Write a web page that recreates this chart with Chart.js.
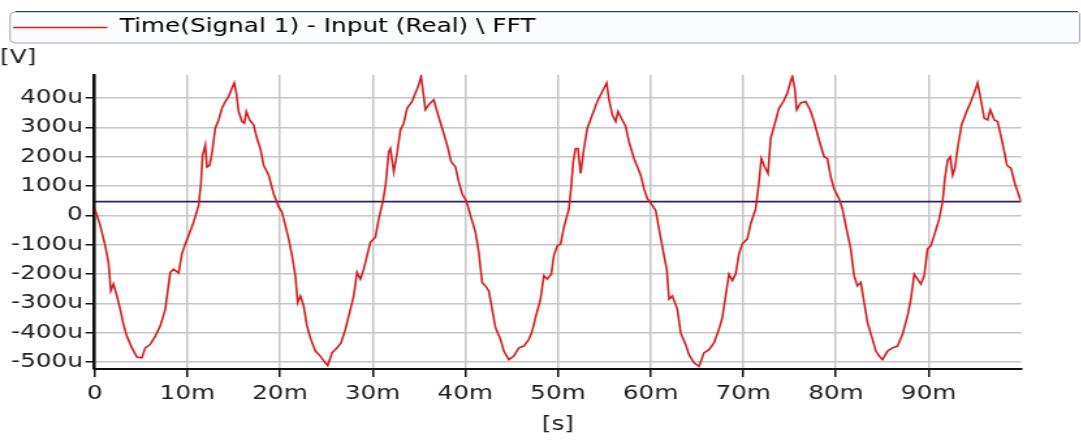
<!DOCTYPE html>
<html lang="en">
<head>
<meta charset="UTF-8">
<title>Time(Signal 1) - Input (Real) \ FFT</title>
<script src="https://cdn.jsdelivr.net/npm/chart.js@4"></script>
<style>
  html, body { margin: 0; padding: 0; background: #fff; overflow: hidden; }
  /* the reference has a horizontally stretched look, so draw narrower and stretch */
  #wrap { width: 831.5px; height: 441px; transform: scaleX(1.3); transform-origin: 0 0; }
</style>
</head>
<body>
<div id="wrap"><canvas id="chart"></canvas></div>
<script>
const legendText = 'Time(Signal 1) - Input (Real) \\ FFT'
const yUnit = '[V]'
const xUnit = '[s]'

// time in ms, signal in uV
const timeMs = [
  0, 0.6, 1.13, 1.49, 1.75, 2.03, 2.39, 2.75, 3.11, 3.47, 4.02, 4.56, 5.1, 5.46, 5.99, 6.54, 7.08, 7.62, 8.16, 8.52,
  9.06, 9.42, 9.78, 10.14, 10.68, 11.22, 11.47, 11.65, 11.94, 12.12, 12.41, 12.66, 13.02, 13.38, 13.74, 14.1, 14.46, 14.82, 15.07, 15.29,
  15.54, 15.9, 16.15, 16.37, 16.73, 17.16, 17.52, 17.88, 18.24, 18.78, 19.32, 19.86, 20.22, 20.58, 20.94, 21.3, 21.66, 21.91, 22.2, 22.56,
  22.92, 23.28, 23.82, 24.36, 24.9, 25.15, 25.62, 26.16, 26.59, 27.06, 27.6, 27.96, 28.32, 28.68, 29.04, 29.4, 29.76, 30.3, 30.7, 31.1,
  31.4, 31.74, 31.92, 32.28, 32.64, 33.0, 33.36, 33.72, 34.26, 34.62, 34.98, 35.23, 35.45, 35.7, 36.06, 36.6, 36.96, 37.5, 38.04, 38.47,
  38.94, 39.3, 39.66, 40.13, 40.56, 41.1, 41.46, 41.82, 42.18, 42.54, 42.9, 43.26, 43.8, 44.16, 44.7, 45.24, 45.78, 46.32, 46.86, 47.22,
  47.58, 48.12, 48.48, 48.84, 49.28, 49.56, 49.93, 50.29, 50.65, 51.19, 51.44, 51.65, 51.9, 52.16, 52.45, 52.81, 53.17, 53.71, 54.25, 54.79,
  55.26, 55.51, 55.87, 56.23, 56.48, 56.84, 57.31, 57.67, 58.21, 58.57, 58.93, 59.29, 59.65, 60.19, 60.55, 60.91, 61.38, 61.74, 61.99, 62.35,
  62.89, 63.25, 63.79, 64.15, 64.69, 65.23, 65.76, 66.3, 66.84, 67.38, 67.74, 68.1, 68.46, 68.82, 69.18, 69.54, 69.9, 70.44, 70.8, 71.34,
  71.7, 71.95, 72.31, 72.67, 72.96, 73.32, 73.86, 74.33, 74.76, 75.12, 75.3, 75.56, 75.77, 76.2, 76.74, 77.21, 77.64, 78.18, 78.72, 79.08,
  79.44, 79.8, 80.34, 80.7, 81.06, 81.6, 81.96, 82.32, 82.69, 83.05, 83.41, 83.95, 84.31, 84.67, 85.03, 85.57, 86.11, 86.65, 87.19, 87.73,
  88.09, 88.45, 88.81, 89.17, 89.53, 89.89, 90.25, 90.61, 91.15, 91.51, 91.76, 92.05, 92.34, 92.59, 92.84, 93.13, 93.56, 94.03, 94.57, 94.93,
  95.29, 95.58, 96.01, 96.37, 96.66, 97.09, 97.45, 97.99, 98.46, 98.9, 99.32, 99.97
]
const signalUV = [
  25, -34, -102, -160, -256, -233, -273, -318, -371, -411, -451, -482, -485, -451, -440, -411, -377, -320, -194, -183,
  -196, -131, -97, -68, -23, 34, 108, 205, 240, 165, 171, 211, 297, 325, 365, 388, 405, 434, 451, 417,
  354, 320, 314, 354, 325, 308, 263, 228, 171, 137, 74, 29, 11, -34, -80, -137, -205, -297, -274, -308,
  -377, -417, -462, -479, -502, -511, -468, -451, -434, -388, -320, -274, -194, -217, -183, -137, -91, -74, -6, 46,
  103, 217, 228, 148, 211, 291, 314, 365, 388, 417, 445, 474, 422, 360, 377, 394, 354, 297, 240, 183,
  166, 114, 74, 48, 0, -57, -126, -228, -240, -257, -320, -382, -422, -462, -491, -479, -451, -445, -422, -394,
  -348, -285, -205, -217, -200, -137, -103, -97, -40, 23, 103, 183, 228, 228, 143, 228, 297, 343, 388, 422,
  451, 394, 343, 320, 354, 331, 303, 251, 194, 166, 137, 91, 57, 34, 17, -46, -126, -183, -285, -274,
  -320, -400, -440, -474, -502, -514, -468, -457, -434, -388, -348, -274, -200, -222, -200, -131, -97, -80, -29, 23,
  114, 194, 166, 143, 263, 303, 365, 388, 417, 457, 474, 434, 360, 383, 388, 360, 320, 257, 200, 194,
  131, 91, 57, 23, -34, -114, -205, -240, -228, -297, -365, -422, -462, -479, -491, -462, -451, -445, -405, -342,
  -285, -200, -217, -234, -205, -114, -103, -68, -11, 46, 126, 188, 200, 137, 160, 228, 308, 348, 388, 417,
  451, 405, 331, 325, 360, 325, 320, 245, 171, 160, 108, 48
]

// flat level line
const levelTimeMs = [0, 100]
const levelUV = [47, 47]

const xTicksMs = [0, 10, 20, 30, 40, 50, 60, 70, 80, 90]
const yTicksUV = [-500, -400, -300, -200, -100, 0, 100, 200, 300, 400]

const FONT = 'DejaVu Sans'
const TXT = '#1e1e1e'

// frame behind the legend row
const legendFrame = {
  id: 'legendFrame',
  beforeDraw(chart) {
    const ctx = chart.ctx
    const x0 = 7.7, x1 = 829.5, y0 = 12, y1 = 43, r = 4
    ctx.save()
    ctx.beginPath()
    ctx.moveTo(x0 + r, y0)
    ctx.lineTo(x1 - 1.5, y0)
    ctx.lineTo(x1, y0 + 1.5)
    ctx.lineTo(x1, y1 - 1.5)
    ctx.lineTo(x1 - 1.5, y1)
    ctx.lineTo(x0 + r, y1)
    ctx.quadraticCurveTo(x0, y1, x0, y1 - r)
    ctx.lineTo(x0, y0 + r)
    ctx.quadraticCurveTo(x0, y0, x0 + r, y0)
    ctx.closePath()
    ctx.fillStyle = '#fbfcfd'
    ctx.fill()
    ctx.strokeStyle = '#9ea9b4'
    ctx.lineWidth = 1
    ctx.stroke()
    ctx.beginPath()
    ctx.moveTo(x0 + r, y0 - 0.5)
    ctx.lineTo(x1 - 1.5, y0 - 0.5)
    ctx.strokeStyle = '#3a3f46'
    ctx.lineWidth = 1.2
    ctx.stroke()
    ctx.restore()
  }
}

const ctx = document.getElementById('chart').getContext('2d')
new Chart(ctx, {
  type: 'line',
  data: {
    datasets: [
      {
        label: legendText,
        data: timeMs.map((t, i) => ({ x: t, y: signalUV[i] })),
        borderColor: '#d41c1c',
        backgroundColor: '#d41c1c',
        borderWidth: 1.6,
        pointRadius: 0,
        tension: 0,
      },
      {
        label: 'level',
        data: levelTimeMs.map((t, i) => ({ x: t, y: levelUV[i] })),
        borderColor: '#3b1c58',
        borderWidth: 1.8,
        pointRadius: 0,
      },
    ],
  },
  options: {
    responsive: true,
    maintainAspectRatio: false,
    animation: false,
    layout: { padding: { top: 8, right: 46.9, left: 0, bottom: 0 } },
    plugins: {
      tooltip: { enabled: false },
      legend: {
        position: 'top',
        align: 'start',
        labels: {
          padding: 10,
          boxWidth: 72.5,
          boxHeight: 1.6,
          color: TXT,
          font: { family: FONT, size: 19 },
          generateLabels: (chart) => [{
            text: legendText,
            fillStyle: '#d41c1c',
            strokeStyle: '#d41c1c',
            lineWidth: 0,
            hidden: false,
            datasetIndex: 0,
          }],
        },
      },
      title: {
        display: true,
        text: yUnit,
        align: 'start',
        weight: 500,
        color: TXT,
        font: { family: FONT, size: 19, weight: 'normal' },
        padding: { top: 0, bottom: 5 },
      },
    },
    scales: {
      x: {
        type: 'linear',
        min: 0,
        max: 100,
        afterBuildTicks: (s) => { s.ticks = xTicksMs.map((v) => ({ value: v })) },
        afterFit: (s) => { s.height = 72 },
        ticks: {
          color: TXT,
          font: { family: FONT, size: 19 },
          padding: 6,
          maxRotation: 0,
          callback: (v) => (v === 0 ? '0' : v + 'm'),
        },
        grid: { color: '#c6c6c6', lineWidth: 1.5, tickColor: '#111', tickLength: 8, tickWidth: 1.5 },
        border: { color: '#111', width: 2 },
        title: {
          display: true,
          text: xUnit,
          color: TXT,
          font: { family: FONT, size: 19 },
          padding: { top: 0, bottom: 5 },
        },
      },
      y: {
        min: -523,
        max: 479,
        afterBuildTicks: (s) => { s.ticks = yTicksUV.map((v) => ({ value: v })) },
        afterFit: (s) => { s.width = 72.7 },
        ticks: {
          color: TXT,
          font: { family: FONT, size: 19 },
          padding: 2,
          callback: (v) => (v === 0 ? '0' : v + 'u'),
        },
        grid: { color: '#c6c6c6', lineWidth: 1.5, tickColor: '#111', tickLength: 7, tickWidth: 1.5 },
        border: { color: '#111', width: 2.5 },
      },
    },
  },
  plugins: [legendFrame],
})
</script>
</body>
</html>
